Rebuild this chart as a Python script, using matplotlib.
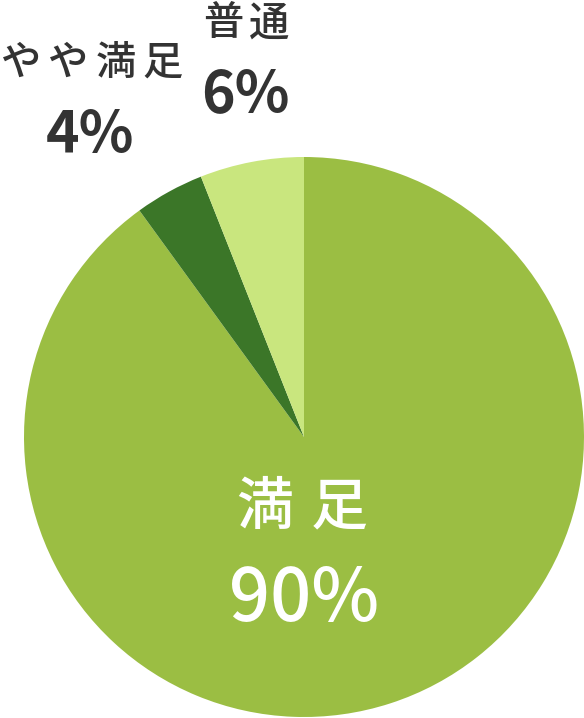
import matplotlib
matplotlib.use("Agg")
import matplotlib.pyplot as plt

plt.rcParams['font.family'] = ['Noto Sans CJK JP', 'DejaVu Sans']

labels = ['満足', 'やや満足', '普通']
values = [90, 4, 6]
colors = ['#9bbe43', '#3b7628', '#c9e67e']
pct_text = ['90%', '4%', '6%']

W, H = 584, 718
fig = plt.figure(figsize=(W / 100, H / 100), dpi=100)
ax = fig.add_axes([0, 0, 1, 1])
ax.set_xlim(0, W)
ax.set_ylim(0, H)
ax.set_aspect('equal')
ax.axis('off')

cx, cy, r = 304, H - 437, 280
ax.pie(values, colors=colors, startangle=90, counterclock=False,
       center=(cx, cy), radius=r, frame=True,
       wedgeprops=dict(linewidth=0))
ax.set_xlim(0, W)
ax.set_ylim(0, H)
ax.axis('off')


def spaced(text, xc, y, step, **kw):
    n = len(text)
    x0 = xc - step * (n - 1) / 2
    for i, ch in enumerate(text):
        ax.text(x0 + i * step, y, ch, ha='center', va='center', **kw)


dark = '#333333'
# 満足 (inside)
spaced(labels[0], 302, H - 508, 75, color='white', fontsize=41, fontweight='medium')
ax.text(304, H - 600, pct_text[0], color='white', fontsize=52, ha='center', va='center', fontweight='medium')
# やや満足
spaced(labels[1], 92, H - 63, 47, color=dark, fontsize=29, fontweight='medium')
ax.text(90, H - 136, pct_text[1], color=dark, fontsize=41, ha='center', va='center', fontweight='semibold')
# 普通
spaced(labels[2], 246, H - 24, 46, color=dark, fontsize=29, fontweight='medium')
ax.text(245, H - 95, pct_text[2], color=dark, fontsize=41, ha='center', va='center', fontweight='semibold')

fig.savefig('out.png', dpi=100)
